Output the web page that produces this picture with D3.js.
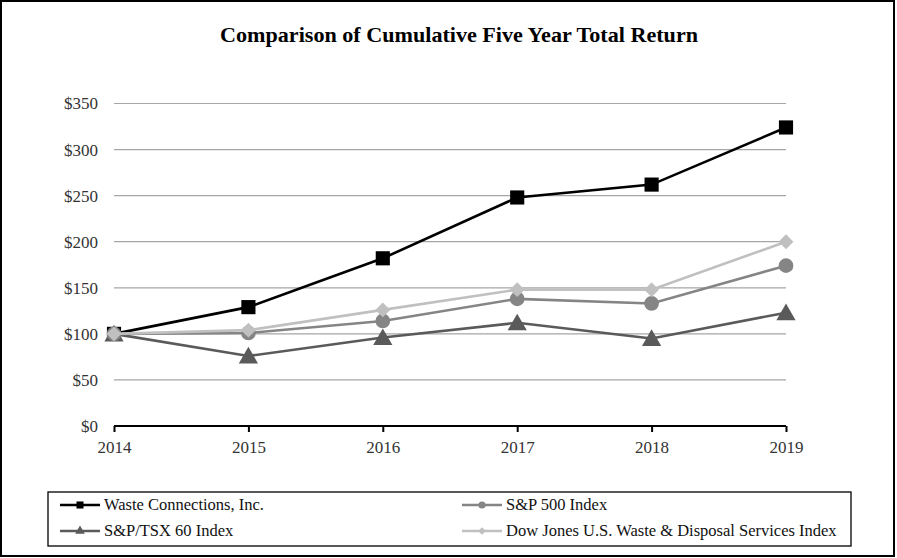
<!DOCTYPE html>
<html><head><meta charset="utf-8">
<script src="https://cdn.jsdelivr.net/npm/d3@7"></script>
<style>body{margin:0;background:#fff}svg{display:block}</style>
</head><body><svg id="c" width="897" height="558"></svg>
<script>
const years = [2014, 2015, 2016, 2017, 2018, 2019];
const yTicks = [0, 50, 100, 150, 200, 250, 300, 350];
const wasteConnections = [100, 129, 182, 248, 262, 324];
const sp500 = [100, 101, 114, 138, 133, 174];
const tsx60 = [100, 76, 96, 112, 95, 123];
const dowJonesWaste = [100, 104, 126, 148, 148, 200];
const seriesNames = ["Waste Connections, Inc.", "S&P 500 Index", "S&P/TSX 60 Index", "Dow Jones U.S. Waste & Disposal Services Index"];

const FONT = "Liberation Serif, Times New Roman, serif";
const series = [
  {name: seriesNames[0], values: wasteConnections, color: "#000000", sym: d3.symbolSquare, size: 200, lsym: 50, rot: 0},
  {name: seriesNames[1], values: sp500, color: "#858585", sym: d3.symbolCircle, size: 170, lsym: 40, rot: 0},
  {name: seriesNames[2], values: tsx60, color: "#5a5a5a", sym: d3.symbolTriangle, size: 160, lsym: 40, rot: 0},
  {name: seriesNames[3], values: dowJonesWaste, color: "#c0c0c0", sym: d3.symbolSquare, size: 110, lsym: 28, rot: 45}
];

const svg = d3.select("#c");
svg.append("rect").attr("x", 1).attr("y", 1).attr("width", 893).attr("height", 555)
  .attr("fill", "#fff").attr("stroke", "#000").attr("stroke-width", 2);

svg.append("text").attr("x", 459).attr("y", 42).attr("text-anchor", "middle")
  .attr("font-family", FONT).attr("font-weight", "bold")
  .attr("font-size", 21).attr("textLength", 478).attr("lengthAdjust", "spacingAndGlyphs")
  .text("Comparison of Cumulative Five Year Total Return");

const x = d3.scalePoint().domain(years).range([114, 786]);
const y = d3.scaleLinear().domain([0, 350]).range([426, 103.5]);

// grid
svg.append("g").selectAll("line").data(yTicks.filter(d => d > 0)).join("line")
  .attr("x1", 114).attr("x2", 786).attr("y1", d => y(d)).attr("y2", d => y(d))
  .attr("stroke", "#a6a6a6").attr("stroke-width", 1.2);

// y axis labels
const yAxis = d3.axisLeft(y).tickValues(yTicks).tickSize(0).tickPadding(16).tickFormat(d => "$" + d);
const gy = svg.append("g").attr("transform", "translate(114,0)").call(yAxis);
gy.select(".domain").remove();
gy.selectAll("text").attr("font-family", FONT).attr("font-size", 17).attr("fill", "#333");

// x axis
const xAxis = d3.axisBottom(x).tickSize(6).tickPadding(9).tickFormat(d3.format("d"));
const gx = svg.append("g").attr("transform", "translate(0,426)").call(xAxis);
gx.select(".domain").attr("stroke", "#000").attr("stroke-width", 2.2).attr("d", "M114,0H786");
gx.selectAll(".tick line").attr("stroke", "#000").attr("stroke-width", 2);
gx.selectAll("text").attr("font-family", FONT).attr("font-size", 17).attr("fill", "#333");

// lines & markers
const order = [0, 2, 1, 3];
const line = d3.line().x((d, i) => x(years[i])).y(d => y(d));
order.forEach(k => {
  const s = series[k];
  svg.append("path").attr("d", line(s.values)).attr("fill", "none")
    .attr("stroke", s.color).attr("stroke-width", 2.6);
  svg.append("g").selectAll("path").data(s.values).join("path")
    .attr("transform", (d, i) => `translate(${x(years[i])},${y(d) + (s.sym === d3.symbolTriangle ? 2 : 0)}) rotate(${s.rot})`)
    .attr("d", d3.symbol().type(s.sym).size(s.size)).attr("fill", s.color);
});

// legend
svg.append("rect").attr("x", 48).attr("y", 492).attr("width", 803).attr("height", 54)
  .attr("fill", "none").attr("stroke", "#000").attr("stroke-width", 1.3);
const legPos = [[60, 505], [462, 505], [60, 531], [462, 531]];
series.forEach((s, k) => {
  const [lx, ly] = legPos[k];
  const g = svg.append("g");
  g.append("line").attr("x1", lx).attr("x2", lx + 40).attr("y1", ly).attr("y2", ly)
    .attr("stroke", s.color).attr("stroke-width", 2.4);
  g.append("path").attr("transform", `translate(${lx + 20},${ly}) rotate(${s.rot})`)
    .attr("d", d3.symbol().type(s.sym).size(s.lsym)).attr("fill", s.color);
  g.append("text").attr("x", lx + 44).attr("y", ly + 5)
    .attr("font-family", FONT).attr("font-size", 16.5)
    .attr("fill", "#111").text(s.name);
});
</script></body></html>
